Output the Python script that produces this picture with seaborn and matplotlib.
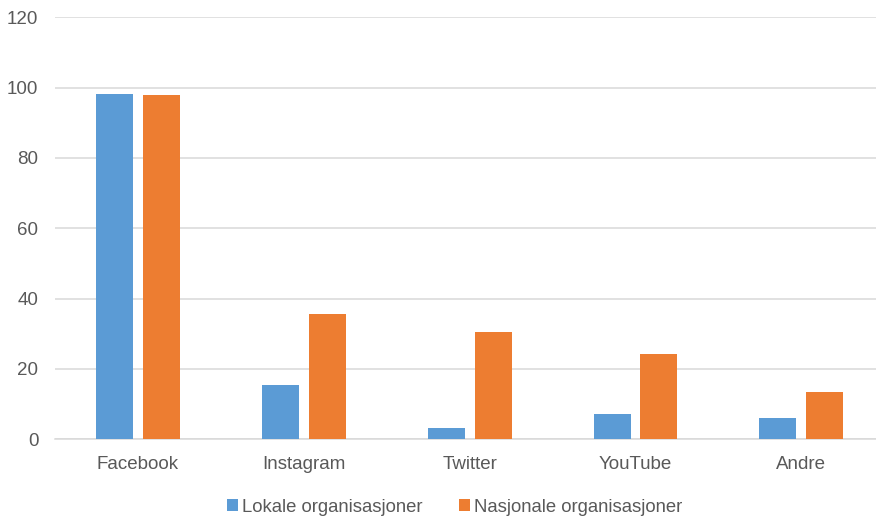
import pandas as pd
import matplotlib
matplotlib.use("Agg")
import matplotlib.pyplot as plt
import seaborn as sns

platforms = ["Facebook", "Instagram", "Twitter", "YouTube", "Andre"]
lokale = [98.3, 15.5, 3.3, 7.1, 6.1]
nasjonale = [97.8, 35.6, 30.5, 24.3, 13.5]
series_names = ["Lokale organisasjoner", "Nasjonale organisasjoner"]
yticks = [0, 20, 40, 60, 80, 100, 120]

df = pd.DataFrame({
    "plattform": platforms * 2,
    "andel": lokale + nasjonale,
    "gruppe": [series_names[0]] * len(platforms) + [series_names[1]] * len(platforms),
})

sns.set_style("white")
plt.rcParams["font.family"] = ["Liberation Sans", "DejaVu Sans"]

fig = plt.figure(figsize=(8.76, 5.18), dpi=100)
ax = fig.add_axes([55 / 876, 1 - 439.3 / 518, 1 - 55 / 876, (439.3 - 17.3) / 518])

sns.barplot(data=df, x="plattform", y="andel", hue="gruppe",
            palette=["#5B9BD5", "#ED7D31"], saturation=1,
            width=0.566, gap=0.212, ax=ax, zorder=3, linewidth=0)

ax.set_xlim(-0.5, 4.45)
ax.set_ylim(0, 120)
ax.set_yticks(yticks)
ax.set_xlabel("")
ax.set_ylabel("")
ax.yaxis.grid(True, color="#d9d9d9", linewidth=1.1, zorder=0)
ax.set_axisbelow(True)
for s in ["top", "right", "left"]:
    ax.spines[s].set_visible(False)
ax.spines["bottom"].set_color("#d9d9d9")
ax.spines["bottom"].set_linewidth(1.1)
ax.tick_params(axis="y", length=0, pad=12, labelsize=13.5, labelcolor="#595959")
ax.tick_params(axis="x", length=0, pad=12, labelsize=13.5, labelcolor="#595959")

handles, labels = ax.get_legend_handles_labels()
ax.get_legend().remove()
leg = fig.legend(handles, labels, loc="center", bbox_to_anchor=(0.519, 0.021),
                 ncol=2, frameon=False, fontsize=13.3, handlelength=0.6,
                 handleheight=0.6, handletextpad=0.2, columnspacing=2.0)
for t in leg.get_texts():
    t.set_color("#595959")

fig.savefig("out.png", dpi=100)
